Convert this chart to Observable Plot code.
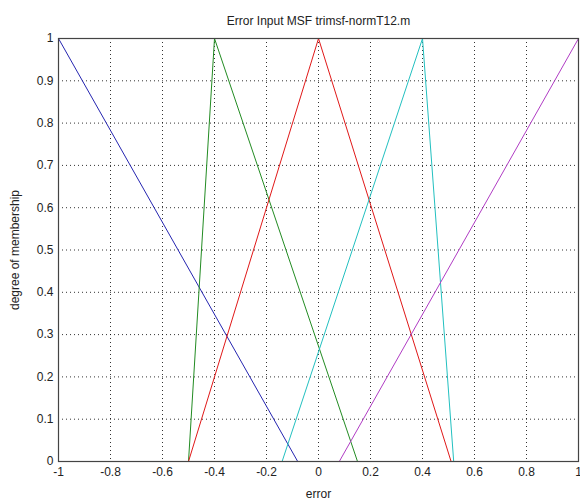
<!DOCTYPE html>
<html><head><meta charset="utf-8">
<script src="https://cdn.jsdelivr.net/npm/d3@7"></script>
<script src="https://cdn.jsdelivr.net/npm/@observablehq/plot@0.6"></script>
<style>body{margin:0;background:#fff;} svg{display:block;}</style>
</head><body><div id="chart"></div>
<script>
const title = "Error Input MSF trimsf-normT12.m";
const xLabel = "error";
const yLabel = "degree of membership";
const xTicks = [-1, -0.8, -0.6, -0.4, -0.2, 0, 0.2, 0.4, 0.6, 0.8, 1];
const xTickLabels = ["-1", "-0.8", "-0.6", "-0.4", "-0.2", "0", "0.2", "0.4", "0.6", "0.8", "1"];
const yTicks = [0, 0.1, 0.2, 0.3, 0.4, 0.5, 0.6, 0.7, 0.8, 0.9, 1];
const yTickLabels = ["0", "0.1", "0.2", "0.3", "0.4", "0.5", "0.6", "0.7", "0.8", "0.9", "1"];

const seriesNames = ["NB", "NS", "ZE", "PS", "PB"];
const seriesColors = ["#2525b0", "#228b22", "#e01818", "#22c0c0", "#b03cc4"];
const nbX = [-1, -0.08];   const nbY = [1, 0];
const nsX = [-0.5, -0.4, 0.15]; const nsY = [0, 1, 0];
const zeX = [-0.5, 0, 0.51];    const zeY = [0, 1, 0];
const psX = [-0.14, 0.4, 0.52]; const psY = [0, 1, 0];
const pbX = [0.08, 1];     const pbY = [0, 1];

const xs = [nbX, nsX, zeX, psX, pbX];
const ys = [nbY, nsY, zeY, psY, pbY];
const rows = [];
seriesNames.forEach((s, i) => xs[i].forEach((x, j) => rows.push({s, x, y: ys[i][j]})));

const font = "'Liberation Sans', Arial, sans-serif";
const chart = Plot.plot({
  width: 580, height: 500,
  marginLeft: 58, marginRight: 2, marginTop: 38, marginBottom: 39,
  style: {fontFamily: font, fontSize: "12px", background: "#fff", color: "#222"},
  x: {domain: [-1, 1]},
  y: {domain: [0, 1]},
  color: {domain: seriesNames, range: seriesColors},
  marks: [
    Plot.gridX(xTicks, {stroke: "#000", strokeOpacity: 0.8, strokeDasharray: "1,3"}),
    Plot.gridY(yTicks, {stroke: "#000", strokeOpacity: 0.8, strokeDasharray: "1,3"}),
    Plot.line(rows, {x: "x", y: "y", z: "s", stroke: "s", strokeWidth: 1}),
    Plot.frame({stroke: "#444", strokeWidth: 1.2}),
    Plot.axisX({ticks: xTicks, tickFormat: (d, i) => xTickLabels[i], tickSize: 0, tickPadding: 6,
      fontSize: 12, label: xLabel, labelAnchor: "center", labelArrow: "none", labelOffset: 36}),
    Plot.axisY({ticks: yTicks, tickFormat: (d, i) => yTickLabels[i], tickSize: 0, tickPadding: 5,
      fontSize: 12, label: yLabel, labelAnchor: "center", labelArrow: "none", labelOffset: 48}),
    Plot.text([title], {frameAnchor: "top", dy: -22, fontSize: 12, fill: "#222"})
  ]
});
document.getElementById("chart").append(chart);
</script></body></html>
